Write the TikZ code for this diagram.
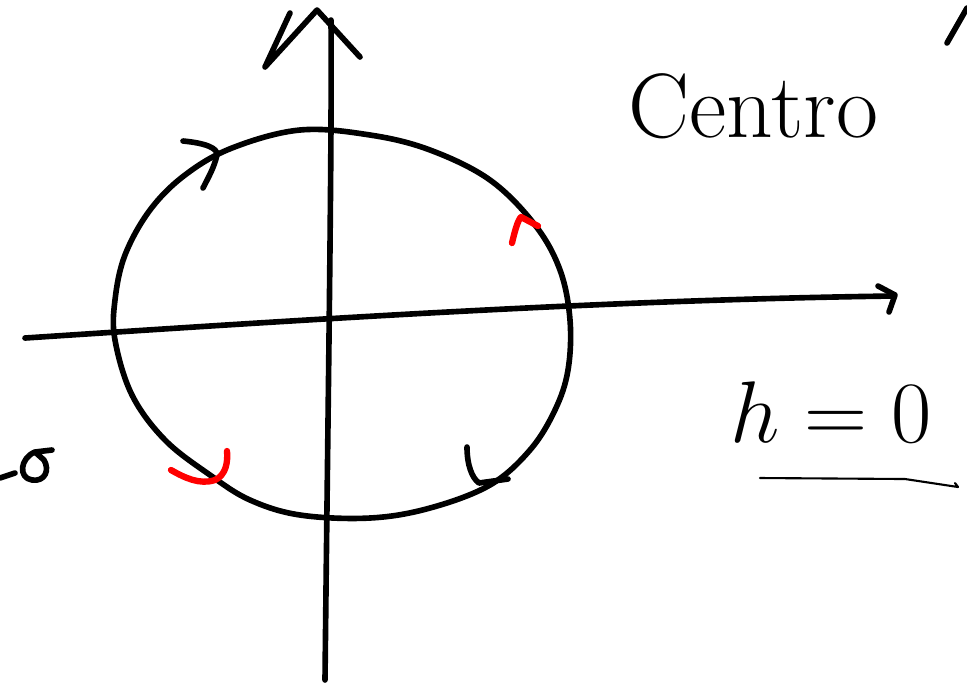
\documentclass[tikz,border=0pt]{standalone}
\usepackage{tikz}
\usetikzlibrary{arrows.meta}
\usepackage{xcolor}

\begin{document}
\begin{tikzpicture}[x=0.01cm,y=-0.01cm,line cap=round,line join=round,
  ink/.style={black,line width=1.6pt},
  redink/.style={red,line width=1.8pt},
  hand/.style={font=\fontsize{26}{28}\selectfont,inner sep=0pt}]
\useasboundingbox (0,0) rectangle (967,696);
% axes
\draw[ink] (325,680) .. controls (328,400) and (332,150) .. (331,20);
\draw[ink] (290,13) -- (265,67) -- (317,10) -- (360,57);
\draw[ink] (25,338) .. controls (300,320) and (600,300) .. (893,296);
\draw[ink] (878,286) -- (895,295) -- (889,312);
% circle
\draw[ink] plot[smooth cycle,tension=0.6] coordinates {
  (300,130) (370,135) (430,150) (490,180) (535,225) (560,270) (570,320)
  (568,370) (555,410) (530,450) (490,485) (430,508) (370,518) (300,515)
  (250,500) (210,475) (165,440) (132,395) (115,340) (115,300) (125,255)
  (150,210) (185,175) (232,148)};
% marks on the circle
\draw[ink] (183,141) .. controls (205,143) and (218,148) .. (217,155) .. controls (214,168) and (208,178) .. (203,188);
\draw[ink] (467,447) .. controls (467,465) and (472,478) .. (479,483) -- (508,479);
\draw[redink] (512,243) .. controls (515,230) and (518,220) .. (521,217) -- (538,226);
\draw[redink] (171,470) .. controls (185,478) and (200,485) .. (215,480) .. controls (226,475) and (228,462) .. (227,451);
% labels
\node[hand,anchor=west] (centro) at (628,106) {Centro};
\node[hand,anchor=west] (hzero) at (730,412) {$h=0$};
\draw[black,line width=0.6pt] (760,478) -- (905,479) -- (958,487) -- (955,483);
% cut-off strokes at the edges
\draw[ink] (0,478) -- (15,473);
\draw[ink] (52,450) -- (35,452) .. controls (20,458) and (18,478) .. (32,480) .. controls (45,482) and (50,470) .. (44,460) -- (35,452);
\draw[ink] (947,43) -- (967,8);
\end{tikzpicture}
\end{document}
